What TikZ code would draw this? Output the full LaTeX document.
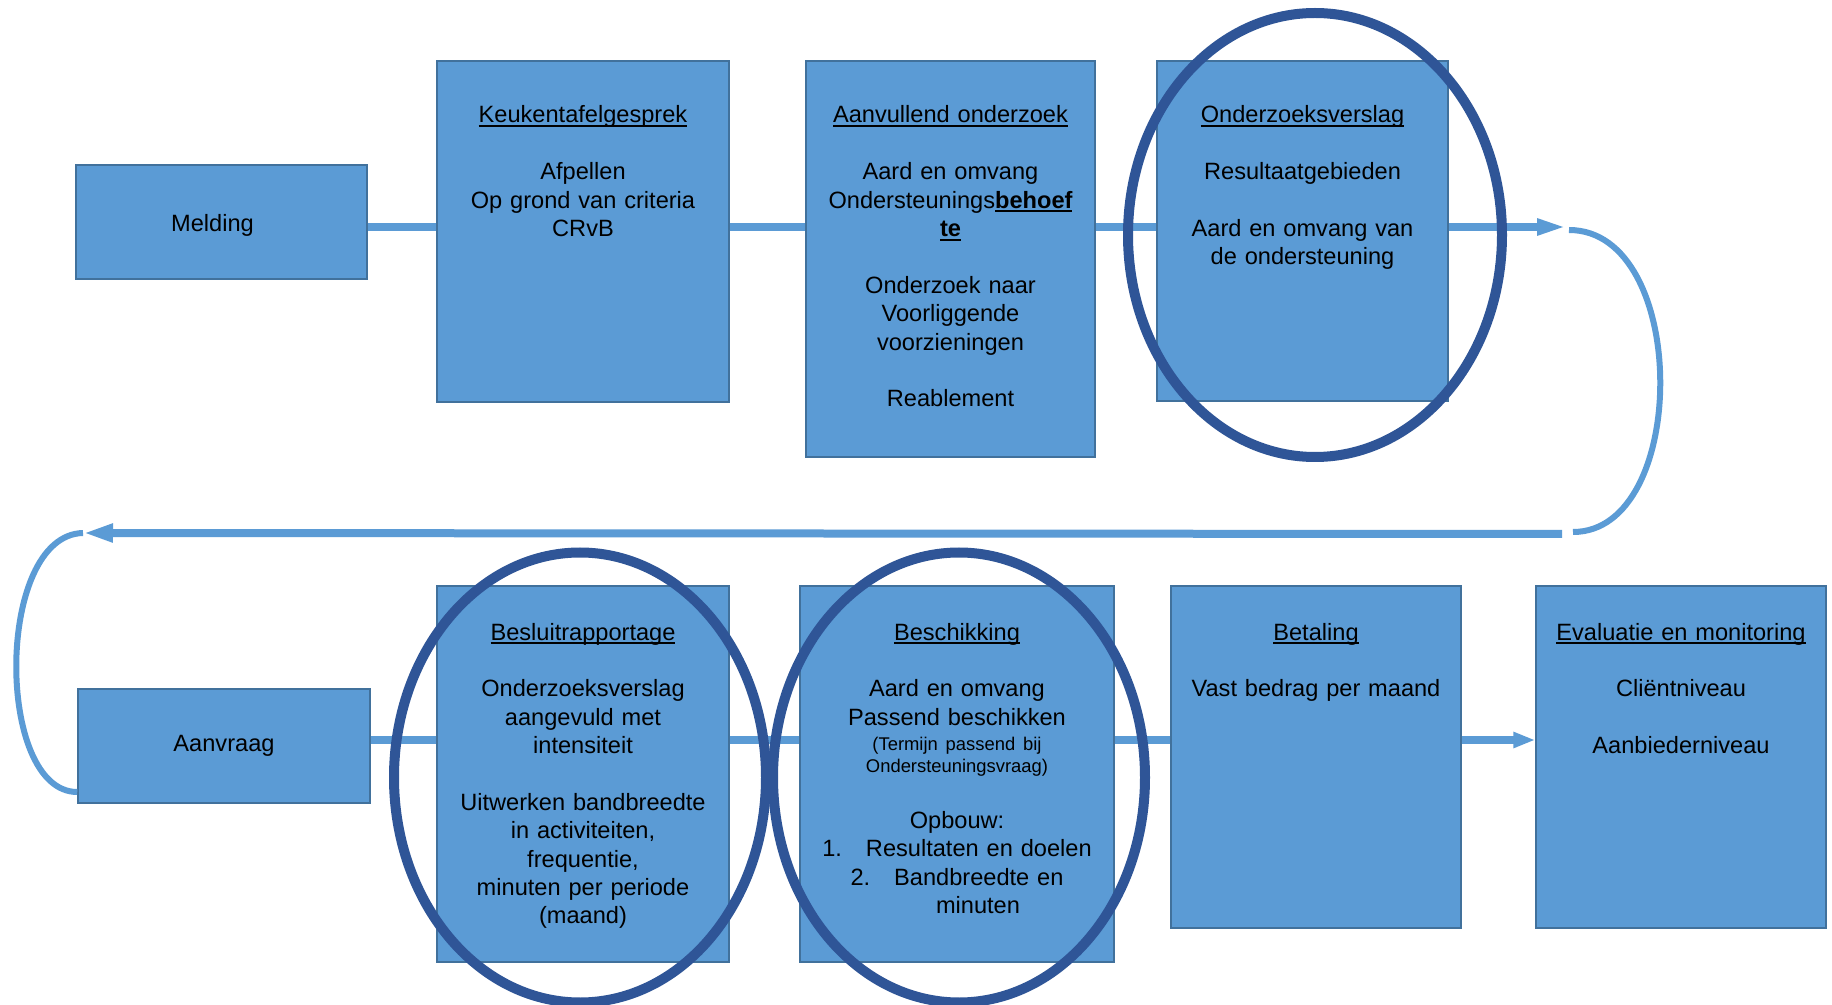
\documentclass[tikz,border=0pt]{standalone}
\usepackage{fontspec}
\setmainfont{Liberation Sans}
\usepackage{xcolor}
\usepackage{tikz}
\usetikzlibrary{arrows.meta}
\definecolor{boxblue}{HTML}{5B9BD5}
\definecolor{boxedge}{HTML}{41719C}
\definecolor{ringblue}{HTML}{2F5597}
\newcommand{\hdul}[1]{\leavevmode\setbox0=\hbox{#1}\rlap{\rule[-2pt]{\wd0}{1pt}}\box0}

\begin{document}
\begin{tikzpicture}[x=0.5pt,y=-0.5pt,
  box/.style={draw=boxedge, line width=0.75pt, fill=boxblue, inner sep=0pt,
    font=\fontsize{11.8}{14.2}\selectfont},
  txt/.style={font=\fontsize{11.8}{14.2}\selectfont, text width=170pt,
    align=center, inner sep=0pt, anchor=base},
  link/.style={draw=boxblue, line width=4pt},
  loopline/.style={draw=boxblue, line width=3pt},
  ring/.style={draw=ringblue, line width=5pt}]
\useasboundingbox (0,0) rectangle (1832,1005);
\fill[white] (0,0) rectangle (1832,1005);
\node[box, minimum width=145.5pt, minimum height=57pt] (melding) at (221.5,222) {};
\node[box, minimum width=146pt, minimum height=170.5pt] (keuken) at (583,231.5) {};
\node[box, minimum width=144.5pt, minimum height=198pt] (aanvullend) at (950.5,259) {};
\node[box, minimum width=145.5pt, minimum height=170pt] (verslag) at (1302.5,231) {};
\node[box, minimum width=146pt, minimum height=57pt] (aanvraag) at (224,746) {Aanvraag};
\node[box, minimum width=146pt, minimum height=188pt] (besluit) at (583,774) {};
\node[box, minimum width=157pt, minimum height=188pt] (beschikking) at (957,774) {};
\node[box, minimum width=145pt, minimum height=171pt] (betaling) at (1316,757) {};
\node[box, minimum width=145pt, minimum height=171pt] (evaluatie) at (1681,757) {};
\node[txt] (meldingtxt) at (212.5,232) {Melding};
\node[txt] (keukentxt) at (keuken.center |- 0,123) {\hdul{Keukentafelgesprek}\\[14.2pt]
  Afpellen\\ Op grond van criteria\\ CRvB};
\node[txt] (aanvullendtxt) at (aanvullend.center |- 0,123) {\hdul{Aanvullend onderzoek}\\[14.2pt]
  Aard en omvang\\ Ondersteunings\textbf{\hdul{behoef}}\\ \textbf{\hdul{te}}\\[14.2pt]
  Onderzoek naar\\ Voorliggende\\ voorzieningen\\[14.2pt] Reablement};
\node[txt] (verslagtxt) at (verslag.center |- 0,123) {\hdul{Onderzoeksverslag}\\[14.2pt]
  Resultaatgebieden\\[14.2pt] Aard en omvang van\\ de ondersteuning};
\node[txt] (besluittxt) at (besluit.center |- 0,640) {\hdul{Besluitrapportage}\\[14.2pt]
  Onderzoeksverslag\\ aangevuld met\\ intensiteit\\[14.2pt] Uitwerken bandbreedte\\
  in activiteiten,\\ frequentie,\\ minuten per periode\\ (maand)};
\node[txt] (beschikkingtxt) at (beschikking.center |- 0,640) {\hdul{Beschikking}\\[14.2pt]
  Aard en omvang\\ Passend beschikken\\[-1.7pt]
  {\fontsize{9.2}{11}\selectfont (Termijn passend bij}\\[-3.2pt]
  {\fontsize{9.2}{11}\selectfont Ondersteuningsvraag)}\\[13.8pt]
  Opbouw:\\ 1.\hspace{12pt}Resultaten en doelen\\ 2.\hspace{12pt}Bandbreedte en\\
  \hspace*{21pt}minuten};
\node[txt] (betalingtxt) at (betaling.center |- 0,640) {\hdul{Betaling}\\[14.2pt]
  Vast bedrag per maand};
\node[txt] (evaluatietxt) at (evaluatie.center |- 0,640) {\hdul{Evaluatie en monitoring}\\[14.2pt]
  Cliëntniveau\\[14.2pt] Aanbiederniveau};
\coordinate (tipr) at (1567,227);
\coordinate (bendtop) at (1569,230);
\coordinate (bendbot) at (1573,532);
\coordinate (retour) at (1562,534);
\coordinate (tipl) at (83,533);
\draw[link] (melding.east |- 0,227) -- (keuken.west |- 0,227);
\draw[link] (keuken.east |- 0,227) -- (aanvullend.west |- 0,227);
\draw[link] (aanvullend.east |- 0,227) -- (verslag.west |- 0,227);
\draw[link, -{Triangle[length=15pt, width=7.5pt]}] (verslag.east |- 0,227) -- (tipr);
\draw[loopline] (bendtop) .. controls (1690,230) and (1690,532) .. (bendbot);
\draw[link, -{Triangle[length=15pt, width=8.5pt]}] (retour) -- (tipl);
\draw[loopline] (tipl) .. controls (-5,535) and (-5,792) .. (aanvraag.west |- 0,792);
\draw[link] (aanvraag.east |- 0,740) -- (besluit.west |- 0,740);
\draw[link] (besluit.east |- 0,740) -- (beschikking.west |- 0,740);
\draw[link] (beschikking.east |- 0,740) -- (betaling.west |- 0,740);
\draw[link, -{Triangle[length=11pt, width=7.5pt]}] (betaling.east |- 0,740) -- (evaluatie.west |- 0,740);
\draw[ring] (1315,235) ellipse [x radius=187, y radius=222];
\draw[ring] (580,777.5) ellipse [x radius=186, y radius=225];
\draw[ring] (959,777.5) ellipse [x radius=186, y radius=225];
\end{tikzpicture}
\end{document}
